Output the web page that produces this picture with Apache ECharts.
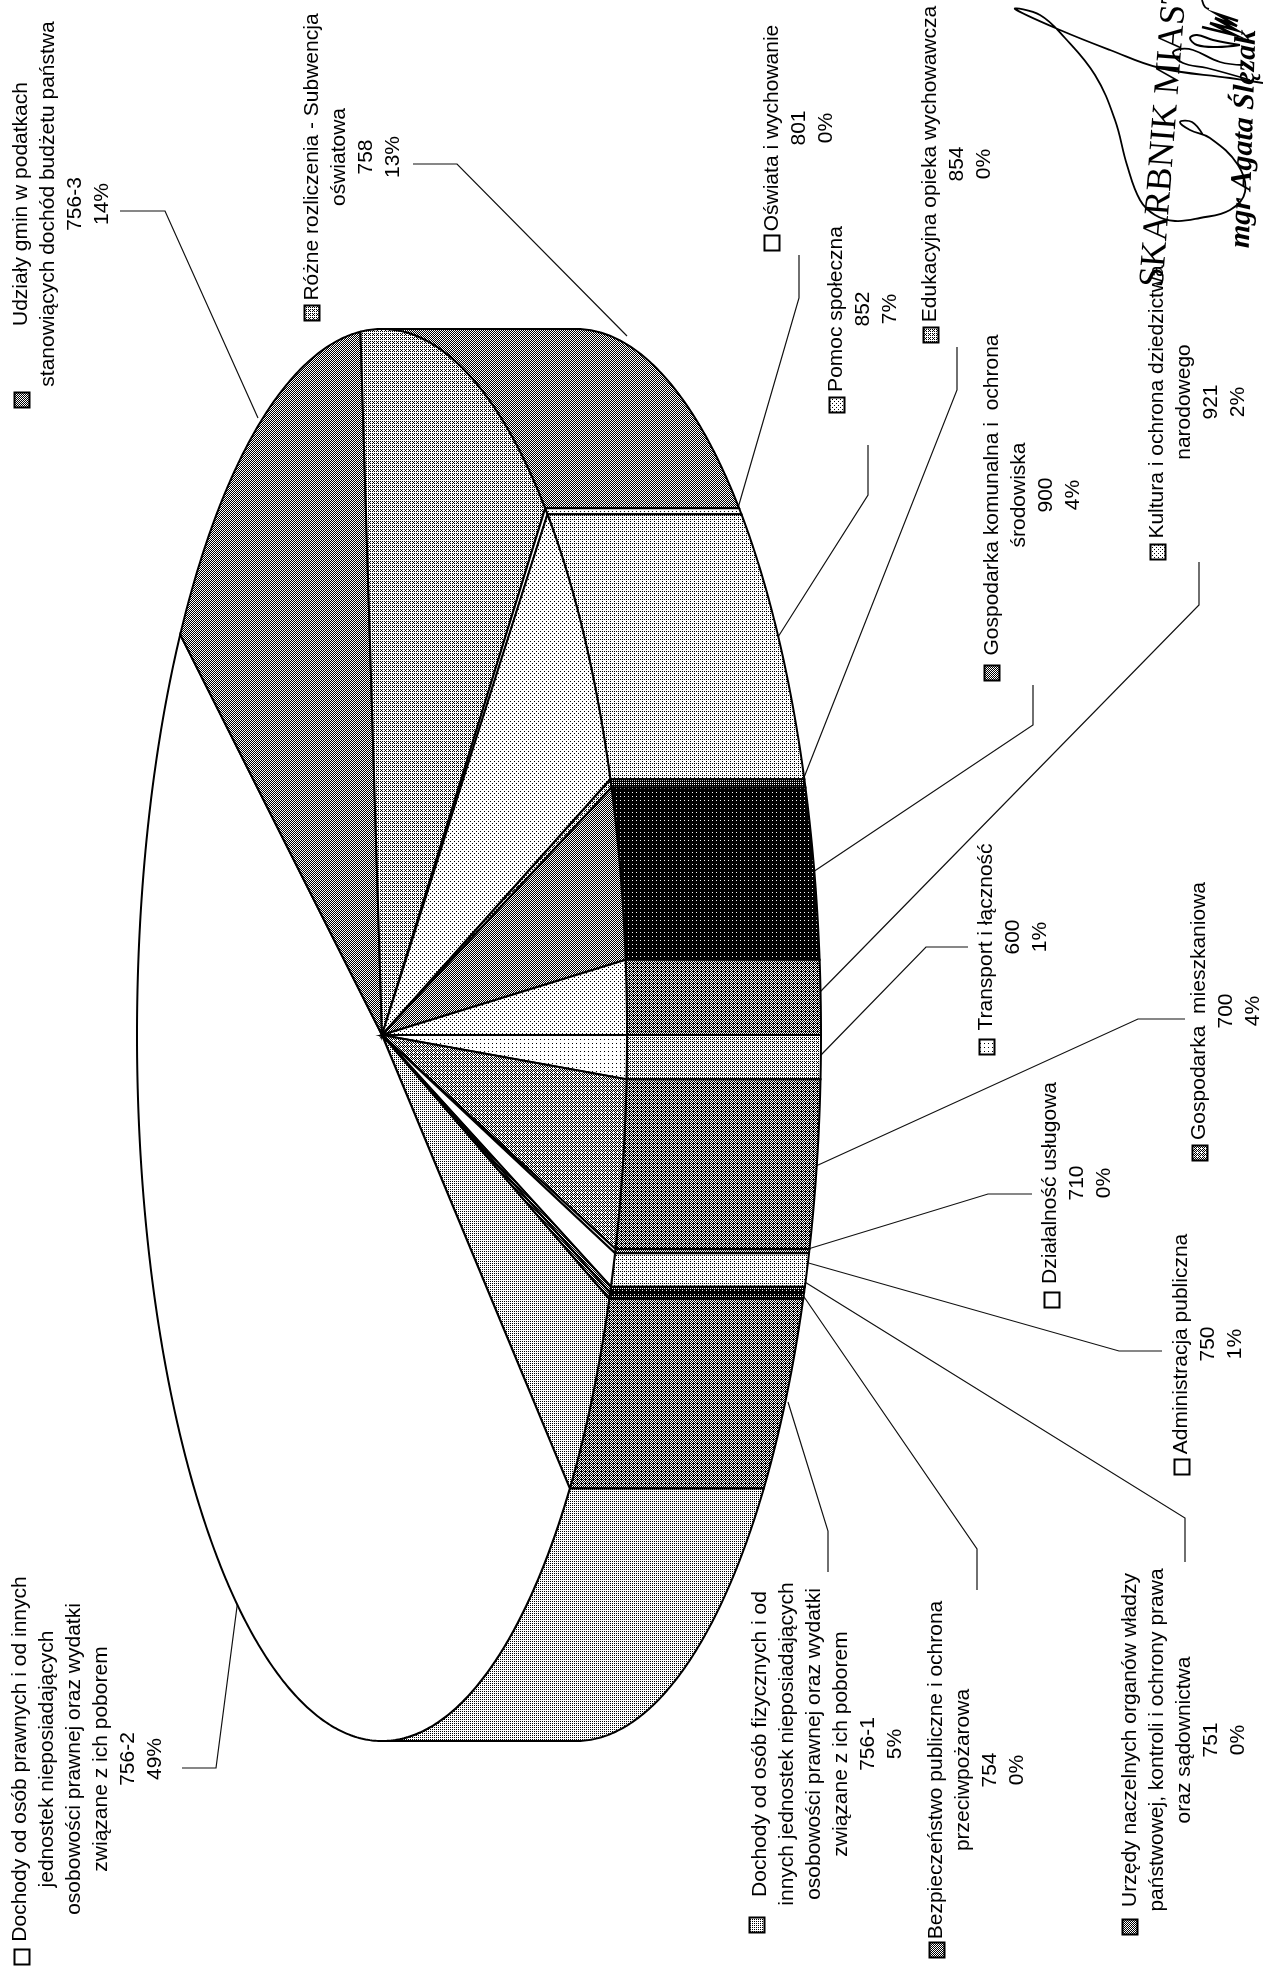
<!DOCTYPE html>
<html>
<head>
<meta charset="utf-8">
<title>Dochody</title>
<style>
html, body { margin: 0; padding: 0; background: #fff; }
#main { width: 1263px; height: 1966px; }
</style>
<script src="https://cdn.jsdelivr.net/npm/echarts@6/dist/echarts.min.js"></script>
</head>
<body>
<div id="main"></div>
<script>
// dzialy budzetu, w kolejnosci wokol wykresu
var codes = ['600', '700', '710', '750', '751', '754', '756-1', '756-2', '756-3', '758', '801', '852', '854', '900', '921'];
var names = [
    ['Transport i łączność'],
    ['Gospodarka  mieszkaniowa'],
    ['Działalność usługowa'],
    ['Administracja publiczna'],
    ['Urzędy naczelnych organów władzy', 'państwowej, kontroli i ochrony prawa', 'oraz sądownictwa'],
    ['Bezpieczeństwo publiczne i ochrona', 'przeciwpożarowa'],
    ['Dochody od osób fizycznych i od', 'innych jednostek nieposiadających', 'osobowości prawnej oraz wydatki', 'związane z ich poborem'],
    ['Dochody od osób prawnych i od innych', 'jednostek nieposiadających', 'osobowości prawnej oraz wydatki', 'związane z ich poborem'],
    ['Udziały gmin w podatkach', 'stanowiących dochód budżetu państwa'],
    ['Różne rozliczenia - Subwencja', 'oświatowa'],
    ['Oświata i wychowanie'],
    ['Pomoc społeczna'],
    ['Edukacyjna opieka wychowawcza'],
    ['Gospodarka komunalna i  ochrona', 'środowiska'],
    ['Kultura i ochrona dziedzictwa', 'narodowego']
];
// udzial (katy wycinkow)
var shares = [1.0, 3.9, 0.1, 0.8, 0.15, 0.15, 5.0, 48.5, 14.0, 13.0, 0.2, 7.3, 0.2, 4.0, 1.7];
// procenty wydrukowane na etykietach
var percents = ['1%', '4%', '0%', '1%', '0%', '0%', '5%', '49%', '14%', '13%', '0%', '7%', '0%', '4%', '2%'];

// odcienie szarosci: wierzch i bok wycinka
var topGrey = [240, 150, 250, 255, 120, 120, 190, 255, 125, 178, 250, 222, 170, 125, 225];
var wallGrey = [172, 105, 140, 205, 50, 50, 108, 190, 90, 122, 235, 200, 60, 14, 112];

// polozenie elipsy
var cx = 382, cy = 1035, rx = 245, ry = 706, depth = 194;

// etykiety: srodek bloku tekstu, kwadracik legendy
var labelPos = [
    { x: 1013, y: 937, kx: 987, ky: 1047 },
    { x: 1226, y: 1011, kx: 1200, ky: 1153 },
    { x: 1077, y: 1183, kx: 1052, ky: 1300 },
    { x: 1208, y: 1344, kx: 1182, ky: 1467 },
    { x: 1184, y: 1740, kx: 1130, ky: 1927 },
    { x: 977, y: 1770, kx: 937, ky: 1950 },
    { x: 828, y: 1744, kx: 757, ky: 1925 },
    { x: 88, y: 1759, kx: 22, ky: 1957 },
    { x: 62, y: 204, kx: 22, ky: 400 },
    { x: 353, y: 157, kx: 312, ky: 313 },
    { x: 799, y: 128, kx: 772, ky: 243 },
    { x: 863, y: 309, kx: 837, ky: 405 },
    { x: 957, y: 164, kx: 931, ky: 335 },
    { x: 1033, y: 495, kx: 992, ky: 673 },
    { x: 1198, y: 402, kx: 1158, ky: 552 }
];
// linie odniesienia
var leaders = [
    [[968, 947], [926, 947], [821, 1055]],
    [[1185, 1019], [1138, 1019], [816, 1166]],
    [[1032, 1194], [988, 1194], [808, 1249]],
    [[1162, 1351], [1119, 1351], [805, 1262]],
    [[1185, 1562], [1185, 1518], [800, 1279]],
    [[977, 1590], [977, 1549], [800, 1291]],
    [[828, 1572], [828, 1531], [788, 1402]],
    [[182, 1768], [216, 1768], [238, 1599]],
    [[120, 211], [165, 211], [258, 418]],
    [[413, 164], [457, 164], [627, 336]],
    [[799, 255], [799, 298], [738, 508]],
    [[868, 445], [868, 495], [778, 637]],
    [[957, 347], [957, 390], [803, 780]],
    [[1033, 685], [1033, 725], [813, 872]],
    [[1199, 562], [1199, 605], [820, 992]]
];

// rastrowanie jak w skanie
var bayer = [0, 8, 2, 10, 12, 4, 14, 6, 3, 11, 1, 9, 15, 7, 13, 5];
function tile(grey) {
    var c = document.createElement('canvas');
    c.width = 4; c.height = 4;
    var g = c.getContext('2d');
    g.fillStyle = '#fff';
    g.fillRect(0, 0, 4, 4);
    g.fillStyle = '#000';
    for (var i = 0; i < 16; i++) {
        if ((bayer[i] + 0.5) / 16 > grey / 255) {
            g.fillRect(i % 4, Math.floor(i / 4), 1, 1);
        }
    }
    return { image: c, repeat: 'repeat' };
}

var total = shares.reduce(function (a, b) { return a + b; }, 0);
var rad = Math.PI / 180;
function sliceStart(i) {
    var s = 0;
    for (var k = 0; k < i; k++) s += shares[k];
    return s / total * 360;
}
function pt(a, dx) {
    return [cx + dx + rx * Math.cos(a * rad), cy + ry * Math.sin(a * rad)];
}
function arc(a0, a1, dx) {
    var pts = [];
    var n = Math.max(2, Math.ceil(Math.abs(a1 - a0) / 0.5));
    for (var k = 0; k <= n; k++) pts.push(pt(a0 + (a1 - a0) * k / n, dx));
    return pts;
}

function renderSlice(params, api) {
    var i = params.dataIndex;
    var a0 = sliceStart(i);
    var a1 = a0 + api.value(0) / total * 360;
    var children = [];
    // bok widoczny tylko od -90 do 90 stopni
    var ranges = [[Math.max(a0, 0), Math.min(a1, 90)], [Math.max(a0, 270), Math.min(a1, 360)]];
    ranges.forEach(function (r) {
        if (r[1] <= r[0]) return;
        var pts = arc(r[0], r[1], 0).concat(arc(r[1], r[0], depth));
        children.push({
            type: 'polygon',
            shape: { points: pts },
            style: { fill: tile(wallGrey[i]), stroke: '#000', lineWidth: 2 }
        });
    });
    children.push({
        type: 'polygon',
        shape: { points: [[cx, cy]].concat(arc(a0, a1, 0)) },
        style: { fill: tile(topGrey[i]), stroke: '#000', lineWidth: 2 }
    });
    return { type: 'group', children: children };
}

var graphics = [];
codes.forEach(function (code, i) {
    var p = labelPos[i];
    graphics.push({
        type: 'polyline',
        shape: { points: leaders[i] },
        style: { stroke: '#111', lineWidth: 1.2, fill: null }
    });
    graphics.push({
        type: 'text',
        x: p.x,
        y: p.y,
        rotation: Math.PI / 2,
        style: {
            text: names[i].concat([code, percents[i]]).join('\n'),
            font: '21px "Liberation Sans"',
            lineHeight: 27,
            textAlign: 'center',
            textVerticalAlign: 'middle',
            fill: '#000'
        }
    });
    graphics.push({
        type: 'rect',
        shape: { x: p.kx - 7.5, y: p.ky - 7.5, width: 15, height: 15 },
        style: { fill: tile(topGrey[i]), stroke: '#000', lineWidth: 2 }
    });
});

// piecztka i podpis skarbnika
graphics.push({
    type: 'text', x: 1153, y: 287, rotation: Math.PI / 2 - 0.078,
    style: {
        text: 'SKARBNIK MIASTA', font: '36px "Liberation Serif"',
        textAlign: 'left', textVerticalAlign: 'middle', fill: '#000'
    }
});
graphics.push({
    type: 'text', x: 1241, y: 248, rotation: Math.PI / 2 - 0.03,
    style: {
        text: 'mgr Agata Ślęzak', font: 'italic bold 30px "Liberation Serif"',
        textAlign: 'left', textVerticalAlign: 'middle', fill: '#000'
    }
});
var signature = [
    { w: 1.8, s: 0.4, pts: [[1263, 83], [1230, 78], [1160, 68], [1110, 50], [1060, 30], [1015, 9], [1040, 15], [1065, 38], [1095, 75], [1115, 120], [1127, 165], [1140, 200], [1155, 215], [1175, 221], [1200, 218], [1230, 210], [1245, 192], [1238, 165], [1210, 138], [1190, 130], [1180, 122], [1192, 122], [1203, 135]] },
    { w: 1.8, s: 0.4, pts: [[1250, 80], [1207, 68], [1183, 63], [1173, 53], [1180, 49], [1193, 50], [1220, 62], [1243, 65]] },
    { w: 2, s: 0.4, pts: [[1240, 45], [1217, 47], [1197, 45], [1190, 38], [1197, 35], [1213, 40], [1240, 45]] },
    { w: 2.6, s: 0, pts: [[1202, 27], [1235, 35], [1210, 23], [1236, 30], [1215, 18], [1237, 26], [1217, 14], [1238, 21]] },
    { w: 1.8, s: 0.4, pts: [[1202, 0], [1205, 7], [1209, 9]] }
];
signature.forEach(function (line) {
    graphics.push({
        type: 'polyline',
        shape: { points: line.pts, smooth: line.s },
        style: { stroke: '#000', lineWidth: line.w, fill: null }
    });
});

var myChart = echarts.init(document.getElementById('main'), null, { renderer: 'canvas' });
var option = {
    animation: false,
    backgroundColor: '#fff',
    graphic: { elements: graphics },
    series: [{
        type: 'custom',
        coordinateSystem: 'none',
        silent: true,
        data: shares.map(function (v, i) { return { name: codes[i], value: [v] }; }),
        renderItem: renderSlice
    }]
};
myChart.setOption(option);
</script>
</body>
</html>
